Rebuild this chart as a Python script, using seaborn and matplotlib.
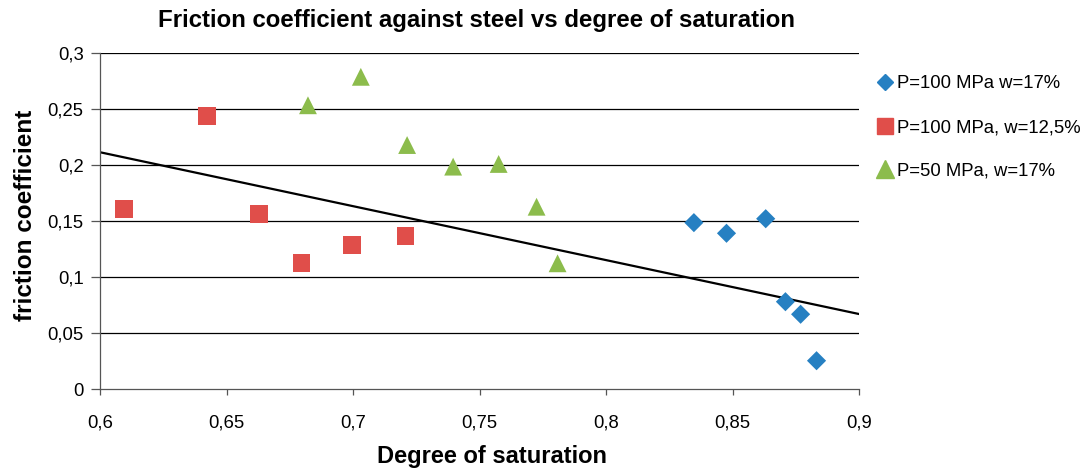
import matplotlib
matplotlib.use("Agg")
import matplotlib.pyplot as plt
import seaborn as sns
import pandas as pd
from matplotlib.lines import Line2D

# ---- data ----
series_names = ["P=100 MPa w=17%", "P=100 MPa, w=12,5%", "P=50 MPa, w=17%"]

blue_x = [0.8347, 0.8476, 0.8631, 0.8709, 0.8769, 0.8832]
blue_y = [0.1488, 0.1393, 0.1523, 0.0782, 0.0670, 0.0255]

red_x = [0.6094, 0.6422, 0.6627, 0.6796, 0.6994, 0.7207]
red_y = [0.1610, 0.2440, 0.1565, 0.1128, 0.1288, 0.1369]

green_x = [0.6821, 0.7030, 0.7213, 0.7395, 0.7575, 0.7725, 0.7808]
green_y = [0.2536, 0.2790, 0.2181, 0.1988, 0.2012, 0.1630, 0.1125]

trend_x = [0.6, 0.9]
trend_y = [0.2116, 0.0672]

x_ticks = [0.6, 0.65, 0.7, 0.75, 0.8, 0.85, 0.9]
x_tick_labels = ["0,6", "0,65", "0,7", "0,75", "0,8", "0,85", "0,9"]
y_ticks = [0, 0.05, 0.1, 0.15, 0.2, 0.25, 0.3]
y_tick_labels = ["0", "0,05", "0,1", "0,15", "0,2", "0,25", "0,3"]

colors = ["#2680C2", "#E04E4A", "#8CBC4C"]
markers = ["D", "s", "^"]
sizes = [95, 160, 165]

df = pd.concat([
    pd.DataFrame({"x": blue_x, "y": blue_y, "series": series_names[0]}),
    pd.DataFrame({"x": red_x, "y": red_y, "series": series_names[1]}),
    pd.DataFrame({"x": green_x, "y": green_y, "series": series_names[2]}),
], ignore_index=True)

sns.set_theme(style="white")
plt.rcParams["font.family"] = ["Liberation Sans", "DejaVu Sans"]
plt.rcParams["text.color"] = "black"

fig = plt.figure(figsize=(10.86, 4.68), dpi=100)
ax = fig.add_axes([0.0924, 0.1682, 0.6986, 0.7179])

ax.set_xlim(0.6, 0.9)
ax.set_ylim(0, 0.3)

for y in y_ticks[1:]:
    ax.axhline(y, color="#000000", lw=0.9, zorder=1)

sns.lineplot(x=trend_x, y=trend_y, ax=ax, color="black", lw=1.6, zorder=2, legend=False)

for name, c, m, s in zip(series_names, colors, markers, sizes):
    sub = df[df["series"] == name]
    sns.scatterplot(data=sub, x="x", y="y", ax=ax, color=c, marker=m, s=s,
                    edgecolor="none", linewidth=0, zorder=3, legend=False)

ax.set_xticks(x_ticks)
ax.set_xticklabels(x_tick_labels)
ax.set_yticks(y_ticks)
ax.set_yticklabels(y_tick_labels)
ax.tick_params(axis="both", which="both", direction="out", width=0.9,
               color="#555555", labelsize=13.3, labelcolor="black")
ax.tick_params(axis="x", length=4.5, pad=13.5, bottom=True)
ax.tick_params(axis="y", length=6.5, pad=5.5, left=True)
ax.set_xlabel("")
ax.set_ylabel("")

for side in ["top", "right"]:
    ax.spines[side].set_visible(False)
for side in ["left", "bottom"]:
    ax.spines[side].set_color("#555555")
    ax.spines[side].set_linewidth(0.9)
ax.grid(False)

fig.text(476 / 1086, 1 - 27 / 468, "Friction coefficient against steel vs degree of saturation",
         ha="center", va="baseline", fontsize=17.3, fontweight="bold", color="black")
fig.text(492 / 1086, 1 - 463 / 468, "Degree of saturation",
         ha="center", va="baseline", fontsize=17, fontweight="bold", color="black")
fig.text(26 / 1086, 1 - 215.5 / 468, "friction coefficient", rotation=90,
         ha="center", va="center", fontsize=17.5, fontweight="bold", color="black")

handles = [Line2D([], [], linestyle="none", marker=m, color=c, markersize=ms)
           for m, c, ms in zip(markers, colors, [8.5, 12, 12.5])]
leg = fig.legend(handles, series_names, loc="upper left",
                 bbox_to_anchor=(870 / 1086, 1 - 68 / 468), frameon=False,
                 fontsize=13.3, handlelength=0.8, handletextpad=0.25,
                 labelspacing=1.45, borderaxespad=0, labelcolor="black")

fig.savefig("out.png", dpi=100)
